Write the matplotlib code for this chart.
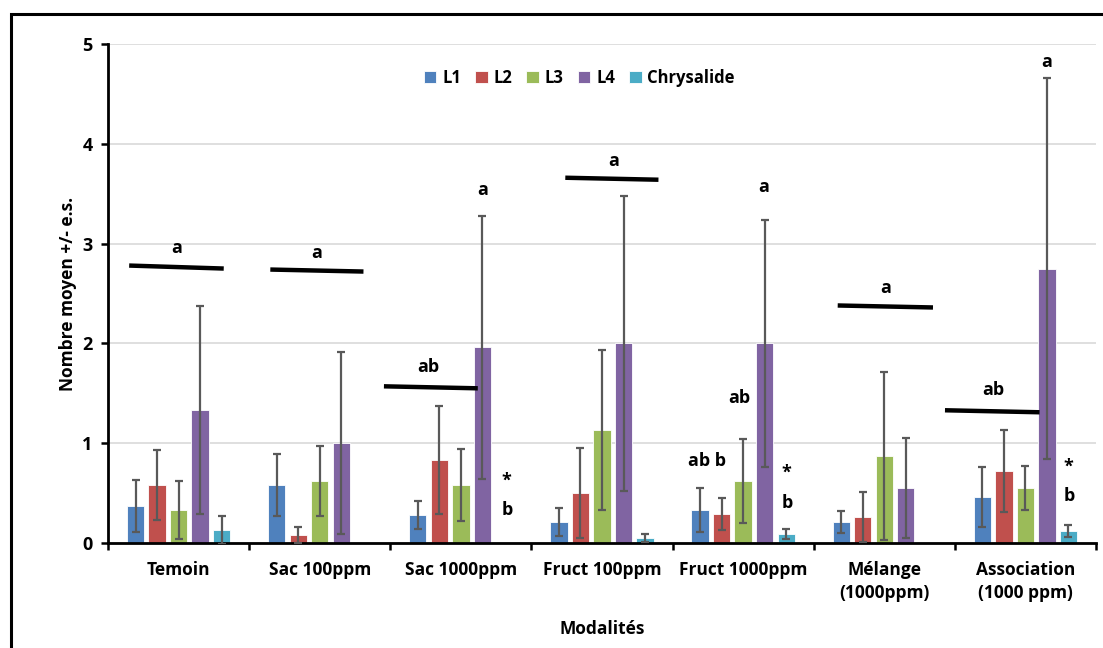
import numpy as np
import matplotlib
matplotlib.use("Agg")
import matplotlib.pyplot as plt
from matplotlib.patches import Rectangle

plt.rcParams['font.family'] = ['Open Sans', 'DejaVu Sans']
plt.rcParams['font.weight'] = 'bold'

modalites = ["Temoin", "Sac 100ppm", "Sac 1000ppm", "Fruct 100ppm", "Fruct 1000ppm",
             "Mélange\n(1000ppm)", "Association\n(1000 ppm)"]
series = ["L1", "L2", "L3", "L4", "Chrysalide"]
colors = ["#4F81BD", "#C0504D", "#9BBB59", "#8064A2", "#4BACC6"]

L1 = [0.37, 0.58, 0.28, 0.21, 0.33, 0.21, 0.46]
L2 = [0.58, 0.08, 0.83, 0.50, 0.29, 0.26, 0.72]
L3 = [0.33, 0.62, 0.58, 1.13, 0.62, 0.87, 0.55]
L4 = [1.33, 1.00, 1.96, 2.00, 2.00, 0.55, 2.75]
chrysalide = [0.13, 0.0, 0.0, 0.05, 0.09, 0.0, 0.12]

L1_es = [0.26, 0.31, 0.14, 0.14, 0.22, 0.11, 0.30]
L2_es = [0.35, 0.08, 0.54, 0.45, 0.16, 0.25, 0.41]
L3_es = [0.29, 0.35, 0.36, 0.80, 0.42, 0.84, 0.22]
L4_es = [1.04, 0.91, 1.32, 1.48, 1.24, 0.50, 1.91]
chrysalide_es = [0.14, 0.0, 0.0, 0.04, 0.05, 0.0, 0.06]

means = [L1, L2, L3, L4, chrysalide]
errors = [L1_es, L2_es, L3_es, L4_es, chrysalide_es]

# group bars (group index, start offset, end offset, y start, y end, letter, letter x, letter y)
group_lines = [
    (0, -0.35, 0.32, 2.78, 2.75, "a", -0.01, 2.96),
    (1, -0.35, 0.31, 2.74, 2.72, "a", 0.98, 2.91),
    (2, -0.545, 0.12, 1.57, 1.55, "ab", 1.77, 1.76),
    (3, -0.26, 0.40, 3.66, 3.64, "a", 3.08, 3.83),
    (5, -0.33, 0.345, 2.38, 2.36, "a", 5.01, 2.56),
    (6, -0.57, 0.10, 1.33, 1.31, "ab", 5.77, 1.53),
]
# other letters (text, x, y)
letters = [
    ("a", 2.157, 3.54), ("a", 4.148, 3.57), ("a", 6.153, 4.82),
    ("ab", 3.971, 1.45), ("ab b", 3.744, 0.82),
    ("*", 2.325, 0.62), ("b", 2.33, 0.33),
    ("*", 4.304, 0.70), ("b", 4.31, 0.40),
    ("*", 6.302, 0.76), ("b", 6.31, 0.47),
]

fig = plt.figure(figsize=(11.03, 6.48), dpi=100)
fig.patches.append(Rectangle((11 / 1103, -0.1), 1.2, 1 - 14 / 648 + 0.1,
                             transform=fig.transFigure, fill=False,
                             edgecolor="black", linewidth=2.2))
ax = fig.add_axes([108 / 1103, 1 - 543 / 648, 988 / 1103, 499 / 648])

x = np.arange(len(modalites))
step = 0.1525
width = 0.123
for i, (name, vals, errs, col) in enumerate(zip(series, means, errors, colors)):
    pos = x + (i - 2) * step
    ax.bar(pos, vals, width, color=col, edgecolor="white", linewidth=0.6,
           label=name, zorder=2)
    v = np.array(vals)
    e = np.array(errs)
    m = v > 0
    ax.errorbar(pos[m], v[m], yerr=e[m], fmt="none", ecolor="#595959",
                elinewidth=1.6, capsize=3.2, capthick=1.6, zorder=3)

for g, x0, x1, y0, y1, lab, lx, ly in group_lines:
    ax.plot([g + x0, g + x1], [y0, y1], color="black", lw=3.2,
            solid_capstyle="butt", zorder=4)
    ax.text(lx, ly, lab, ha="center", va="center", fontsize=13,
            fontweight="bold", zorder=5)
for lab, lx, ly in letters:
    ax.text(lx, ly, lab, ha="center", va="center", fontsize=13,
            fontweight="bold", zorder=5)

ax.set_xlim(-0.5, 6.5)
ax.set_ylim(0, 5)
ax.set_yticks(range(6))
ax.yaxis.grid(True, color="#d9d9d9", lw=1.2, zorder=0)
ax.set_axisbelow(True)
ax.set_xticks(x)
ax.set_xticklabels(modalites, fontsize=12.5, fontweight="bold", linespacing=1.35)
ax.set_xticks(np.arange(-0.5, 7, 1), minor=True)
ax.tick_params(axis="x", which="major", length=0, pad=13)
ax.tick_params(axis="x", which="minor", length=5, width=1.8, direction="out")
ax.tick_params(axis="y", length=5, width=1.8, direction="out", labelsize=13, pad=6)
for t in ax.get_yticklabels():
    t.set_fontweight("bold")

for s in ["top", "right"]:
    ax.spines[s].set_visible(False)
for s in ["left", "bottom"]:
    ax.spines[s].set_linewidth(2.0)

ax.set_ylabel("Nombre moyen +/- e.s.", fontsize=12.5, fontweight="bold", labelpad=4)
ax.set_xlabel("Modalités", fontsize=12.5, fontweight="bold", labelpad=13)

leg = ax.legend(loc="upper center", bbox_to_anchor=(0.477, 0.98), ncol=5,
                frameon=False, handlelength=0.75, handleheight=0.75,
                handletextpad=0.35, columnspacing=0.85,
                prop={"weight": "bold", "size": 12})

fig.savefig("out.png", dpi=100)
